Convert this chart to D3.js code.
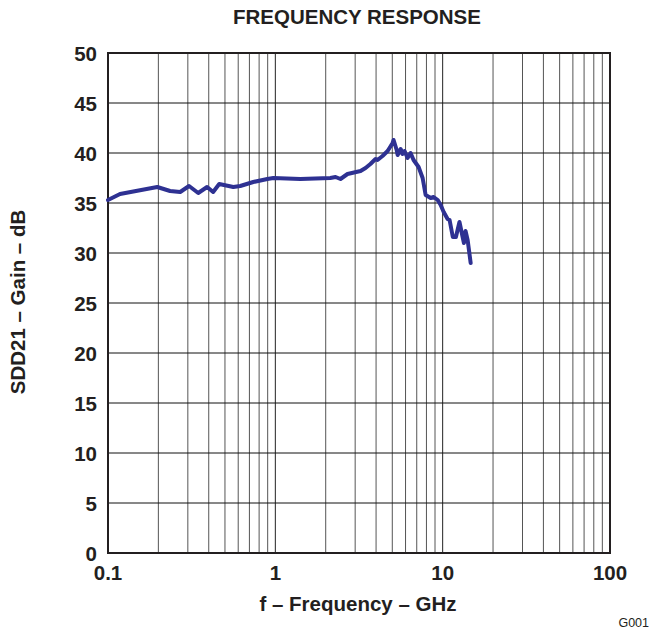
<!DOCTYPE html>
<html>
<head>
<meta charset="utf-8">
<script src="https://cdn.jsdelivr.net/npm/d3@7"></script>
<style>
  body { margin: 0; background: #fff; }
  svg text { font-family: "Liberation Sans", Arial, sans-serif; fill: #231f20; }
</style>
</head>
<body>
<svg id="chart" width="650" height="631"></svg>
<script>
// frequency in GHz
const freq = [0.1, 0.118, 0.197, 0.235, 0.27, 0.305, 0.346, 0.391, 0.425, 0.462,
  0.561, 0.617, 0.738, 0.896, 0.973, 1.41, 2.13, 2.29, 2.45, 2.7, 3.23, 3.46,
  3.7, 3.97, 4.08, 4.37, 4.69, 5.02, 5.09, 5.31, 5.38, 5.61, 5.76, 5.92, 6.17,
  6.43, 6.7, 7.18, 7.59, 7.91, 8.48, 8.83, 9.34, 9.73, 10.14, 10.7, 11.0, 11.5,
  12.0, 12.6, 13.2, 13.4, 13.7, 14.1, 14.7]
// SDD21 gain in dB
const gain = [35.3, 35.9, 36.6, 36.2, 36.1, 36.7, 36.0, 36.6, 36.1, 36.9,
  36.6, 36.7, 37.1, 37.4, 37.5, 37.4, 37.5, 37.6, 37.4, 37.9, 38.2, 38.5,
  38.9, 39.4, 39.3, 39.7, 40.2, 41.0, 41.3, 40.3, 39.8, 40.4, 39.9, 40.2, 39.5,
  40.0, 39.3, 38.6, 37.5, 35.8, 35.5, 35.6, 35.3, 34.8, 34.1, 33.4, 33.3, 31.6,
  31.6, 33.1, 31.5, 31.0, 32.2, 31.3, 29.0]

const xTicks = [0.1, 1, 10, 100]
const xTickLabels = ["0.1", "1", "10", "100"]
const yTicks = [0, 5, 10, 15, 20, 25, 30, 35, 40, 45, 50]

const svg = d3.select("#chart")
const m = { left: 108, top: 53, right: 610, bottom: 553 }

const x = d3.scaleLog().domain([0.1, 100]).range([m.left, m.right])
const y = d3.scaleLinear().domain([0, 50]).range([m.bottom, m.top])

// minor vertical grid (2..9 in each decade)
let minor = []
for (let d = 0.1; d < 100; d *= 10) {
  for (let k = 2; k <= 9; k++) minor.push(d * k)
}
svg.append("g").selectAll("line")
  .data(minor)
  .enter().append("line")
  .attr("x1", d => x(d)).attr("x2", d => x(d))
  .attr("y1", m.top).attr("y2", m.bottom)
  .attr("stroke", "#555").attr("stroke-width", 1)

// decade lines
svg.append("g").selectAll("line")
  .data(xTicks)
  .enter().append("line")
  .attr("x1", d => x(d)).attr("x2", d => x(d))
  .attr("y1", m.top).attr("y2", m.bottom)
  .attr("stroke", "#222").attr("stroke-width", 1)

// horizontal grid
svg.append("g").selectAll("line")
  .data(yTicks)
  .enter().append("line")
  .attr("x1", m.left).attr("x2", m.right)
  .attr("y1", d => y(d)).attr("y2", d => y(d))
  .attr("stroke", "#111").attr("stroke-width", 1)

// frame
svg.append("rect")
  .attr("x", m.left).attr("y", m.top)
  .attr("width", m.right - m.left).attr("height", m.bottom - m.top)
  .attr("fill", "none").attr("stroke", "#231f20").attr("stroke-width", 2)

// curve
const pts = freq.map((f, i) => [f, gain[i]])
const line = d3.line().x(d => x(d[0])).y(d => y(d[1])).curve(d3.curveLinear)
svg.append("path")
  .datum(pts)
  .attr("d", line)
  .attr("fill", "none")
  .attr("stroke", "#2e3192")
  .attr("stroke-width", 4)
  .attr("stroke-linejoin", "round")
  .attr("stroke-linecap", "round")

// tick labels
svg.append("g").selectAll("text")
  .data(yTicks)
  .enter().append("text")
  .attr("x", 97).attr("y", d => y(d) + 7.5)
  .attr("text-anchor", "end")
  .style("font-size", "20.5px").style("font-weight", "bold")
  .text(d => d)

svg.append("g").selectAll("text")
  .data(xTicks)
  .enter().append("text")
  .attr("x", d => x(d)).attr("y", 580)
  .attr("text-anchor", "middle")
  .style("font-size", "20.5px").style("font-weight", "bold")
  .text((d, i) => xTickLabels[i])

// titles
svg.append("text")
  .attr("x", 357).attr("y", 24)
  .attr("text-anchor", "middle")
  .style("font-size", "20.5px").style("font-weight", "bold")
  .text("FREQUENCY RESPONSE")

svg.append("text")
  .attr("x", 358).attr("y", 611)
  .attr("text-anchor", "middle")
  .style("font-size", "20.5px").style("font-weight", "bold")
  .text("f – Frequency – GHz")

svg.append("text")
  .attr("transform", "translate(25,302) rotate(-90)")
  .attr("text-anchor", "middle")
  .style("font-size", "20.5px").style("font-weight", "bold")
  .text("SDD21 – Gain – dB")

svg.append("text")
  .attr("x", 649).attr("y", 627)
  .attr("text-anchor", "end")
  .style("font-size", "12.5px")
  .text("G001")
</script>
</body>
</html>
